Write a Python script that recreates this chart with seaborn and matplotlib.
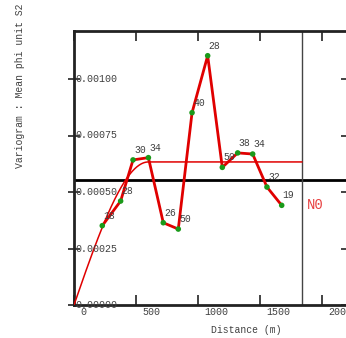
import numpy as np
import pandas as pd
import matplotlib
matplotlib.use("Agg")
import matplotlib.pyplot as plt
import matplotlib.transforms as mtransforms
import seaborn as sns

# ---- data ----
distance = [228, 376, 476, 600, 720, 841, 952, 1078, 1196, 1320, 1441, 1556, 1675]
gamma = [0.000351, 0.000460, 0.000642, 0.000652, 0.000364, 0.000336, 0.000851,
         0.001103, 0.000609, 0.000673, 0.000668, 0.000522, 0.000441]
pairs = [18, 28, 30, 34, 26, 50, 40, 28, 50, 38, 34, 32, 19]

variance = 0.000553          # black horizontal line
model_sill = 0.000633        # spherical model sill
model_range = 600            # spherical model range
model_max = 1839             # model drawn up to this distance (vertical line)

x_ticks = [0, 500, 1000, 1500, 2000]
y_ticks = [0.0, 0.00025, 0.00050, 0.00075, 0.00100]
y_tick_labels = ["0.00000", "0.00025", "0.00050", "0.00075", "0.00100"]

# spherical model curve
h = np.linspace(0, model_max, 400)
hr = np.minimum(h / model_range, 1.0)
model = model_sill * (1.5 * hr - 0.5 * hr ** 3)

exp_df = pd.DataFrame({"distance": distance, "gamma": gamma})
mod_df = pd.DataFrame({"distance": h, "gamma": model})

sns.set_style("white")
FAM = ["Liberation Mono", "DejaVu Sans Mono"]
plt.rcParams["font.family"] = FAM

W, H = 346, 338
fig = plt.figure(figsize=(W / 100, H / 100), dpi=100)
ax = fig.add_axes([74 / W, 33 / H, 273 / W, 274 / H])

text_col = "#404040"
red = "#e00000"

sns.lineplot(data=mod_df, x="distance", y="gamma", ax=ax, color=red, lw=1.1,
             zorder=3)
sns.lineplot(data=exp_df, x="distance", y="gamma", ax=ax, color=red, lw=2.0,
             zorder=4, sort=False)
sns.scatterplot(data=exp_df, x="distance", y="gamma", ax=ax, color="#1a9a1a",
                s=16, edgecolor="none", zorder=5)

ax.axhline(variance, color="black", lw=2.0, zorder=2)
ax.axvline(model_max, color="#444444", lw=1.0, zorder=2)

ax.set_xlim(0, 273 / 62 * 500)
ax.set_ylim(0, 274 / 226 * 0.001)

ax.set_xlabel("")
ax.set_ylabel("")
ax.set_xticks(x_ticks)
ax.set_yticks(y_ticks)
ax.tick_params(axis="x", which="both", direction="in", length=7, width=1.2,
               color="#222222", bottom=True, top=True,
               labelbottom=False, labeltop=False)
ax.tick_params(axis="y", which="both", direction="inout", length=9, width=1.2,
               color="#222222", left=True, right=True,
               labelleft=False, labelright=False)

for side in ["left", "bottom", "top"]:
    ax.spines[side].set_visible(True)
    ax.spines[side].set_linewidth(2.0)
    ax.spines[side].set_color("#222222")
ax.spines["right"].set_visible(False)

# tick labels as text (drawn inside, as in reference)
fs = 7.2
xtrans = ax.get_xaxis_transform() + mtransforms.ScaledTranslation(
    6 / 100, -2 / 100, fig.dpi_scale_trans)
for xv in x_ticks:
    ax.text(xv, 0, str(xv), transform=xtrans, ha="left", va="top",
            fontsize=fs, color=text_col, clip_on=False, family=FAM)
ytrans = ax.get_yaxis_transform() + mtransforms.ScaledTranslation(
    1 / 100, 0, fig.dpi_scale_trans)
for yv, lab in zip(y_ticks, y_tick_labels):
    ax.text(0, yv, lab, transform=ytrans, ha="left", va="center",
            fontsize=fs, color=text_col, clip_on=False, zorder=6, family=FAM)

# pair counts
for d, g, n in zip(distance, gamma, pairs):
    ax.annotate(str(n), (d, g), xytext=(1, 5), textcoords="offset pixels",
                ha="left", va="bottom", fontsize=7, color=text_col, zorder=6,
                family=FAM)

ax.text(model_max, 0.000441, "N0", transform=ax.transData +
        mtransforms.ScaledTranslation(5 / 100, 0, fig.dpi_scale_trans),
        ha="left", va="center", fontsize=10, color="#e84040", family=FAM)

fig.text(20 / W, 1 - 86 / H, "Variogram : Mean phi unit S2", rotation=90,
         ha="center", va="center", fontsize=7, color=text_col, family=FAM)
fig.text(246 / W, 1 - 330 / H, "Distance (m)", ha="center", va="center",
         fontsize=7, color=text_col, family=FAM)

fig.savefig("out.png", dpi=100)
